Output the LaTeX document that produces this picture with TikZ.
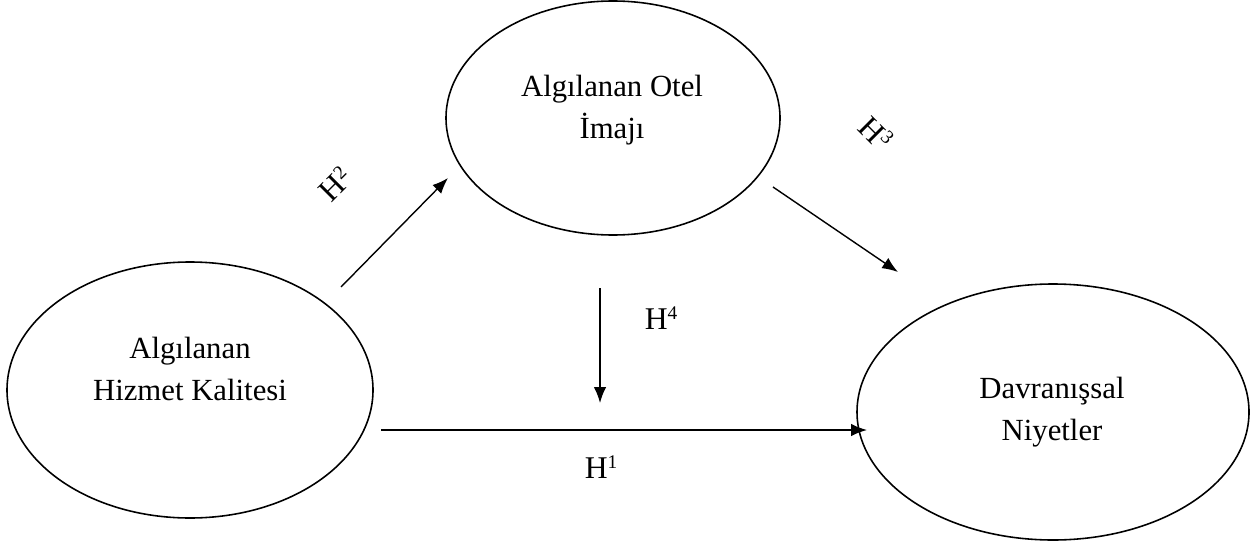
\documentclass[tikz,border=0pt]{standalone}
\usepackage{fontspec}
\setmainfont{Liberation Serif}
\usetikzlibrary{shapes.geometric,arrows.meta}
\newcommand{\hsup}[1]{\raisebox{0.3em}{\fontsize{11}{12}\selectfont #1}}
\begin{document}
\begin{tikzpicture}[x=0.02cm,y=-0.02cm,
  oval/.style={draw,line width=0.9pt,ellipse,inner sep=0pt},
  lbl/.style={font=\fontsize{17.5}{20}\selectfont,align=center},
  hyp/.style={font=\fontsize{18}{20}\selectfont,inner sep=0pt},
  arr/.style={line width=0.8pt,-{Latex[length=9pt,width=7pt]}}]
\useasboundingbox (0,0) rectangle (1250,544);
\node[oval,minimum width=0.02cm*366,minimum height=0.02cm*256] (hk) at (190,390) {};
\node[oval,minimum width=0.02cm*334,minimum height=0.02cm*234] (oi) at (613,118) {};
\node[oval,minimum width=0.02cm*392,minimum height=0.02cm*256] (dn) at (1053,412) {};
\node[lbl] (hkt) at (190,369) {Algılanan\\[4pt]Hizmet Kalitesi};
\node[lbl] (oit) at (612,110) {Algılanan Otel\\[4pt]İmajı};
\node[lbl] (dnt) at (1052,412) {Davranışsal\\[4pt]Niyetler};
\coordinate (a2s) at (341,287); \coordinate (a2e) at (448,178);
\coordinate (a3s) at (773,187); \coordinate (a3e) at (898,272);
\coordinate (a4s) at (600,288); \coordinate (a4e) at (600,403);
\coordinate (a1s) at (381,430); \coordinate (a1e) at (867,430);
\draw[arr] (a2s) -- (a2e);
\draw[arr] (a3s) -- (a3e);
\draw[arr] (a4s) -- (a4e);
\draw[arr] (a1s) -- (a1e);
\node[hyp,rotate=45] (h2) at (335,184) {H\hsup{2}};
\node[hyp,rotate=-45] (h3) at (876,133) {H\hsup{3}};
\node[hyp] (h4) at (661,318) {H\hsup{4}};
\node[hyp] (h1) at (601,467) {H\hsup{1}};
\end{tikzpicture}
\end{document}
